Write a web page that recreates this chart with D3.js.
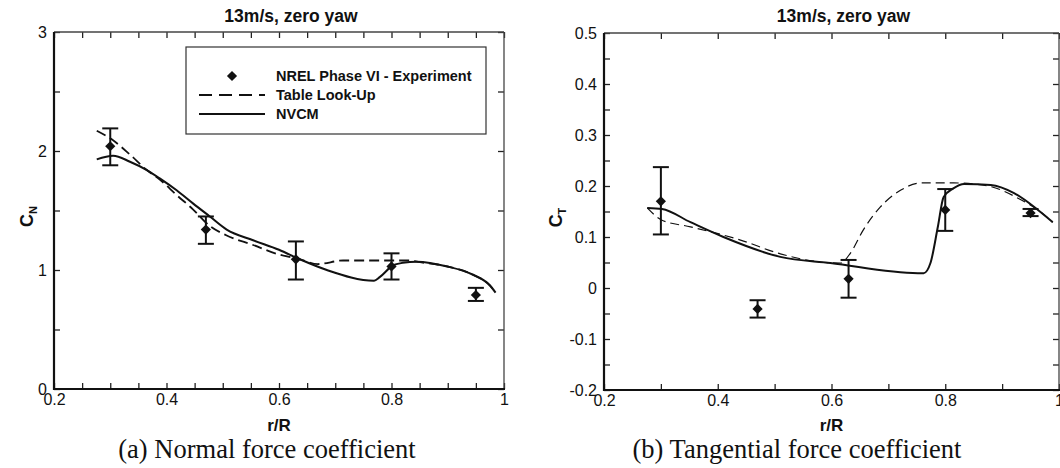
<!DOCTYPE html>
<html>
<head>
<meta charset="utf-8">
<script src="https://cdn.jsdelivr.net/npm/d3@7"></script>
<style>
  body { margin: 0; background: #fff; }
  svg { display: block; }
  text { font-family: Arial, "Liberation Sans", sans-serif; fill: #111; }
</style>
</head>
<body>
<svg id="chart" width="1060" height="468"></svg>
<script>
// experiment stations (r/R)
const expR = [0.30, 0.47, 0.63, 0.80, 0.95];

// normal force coefficient
const cnExp = [2.04, 1.34, 1.09, 1.03, 0.79];
const cnErrLo = [1.88, 1.22, 0.92, 0.92, 0.74];
const cnErrHi = [2.19, 1.45, 1.24, 1.14, 0.85];
const cnTableR = [0.276, 0.305, 0.335, 0.365, 0.388, 0.418, 0.447, 0.477, 0.507, 0.554, 0.60, 0.637, 0.669, 0.714, 0.744, 0.80, 0.833, 0.845, 0.899, 0.945, 0.975, 0.985];
const cnTable = [2.17, 2.09, 1.97, 1.84, 1.76, 1.63, 1.51, 1.37, 1.29, 1.21, 1.13, 1.09, 1.05, 1.08, 1.08, 1.08, 1.08, 1.07, 1.03, 0.96, 0.87, 0.81];
const cnNvcmR = [0.276, 0.305, 0.335, 0.365, 0.388, 0.418, 0.447, 0.477, 0.507, 0.554, 0.60, 0.637, 0.685, 0.769, 0.779, 0.803, 0.82, 0.845, 0.899, 0.945, 0.975, 0.985];
const cnNvcm = [1.93, 1.96, 1.91, 1.84, 1.77, 1.67, 1.56, 1.45, 1.34, 1.25, 1.17, 1.09, 1.00, 0.91, 0.94, 1.04, 1.06, 1.07, 1.03, 0.96, 0.87, 0.81];

// tangential force coefficient
const ctExp = [0.170, -0.041, 0.018, 0.153, 0.147];
const ctErrLo = [0.105, -0.058, -0.019, 0.112, 0.141];
const ctErrHi = [0.237, -0.024, 0.055, 0.194, 0.155];
const ctTableR = [0.276, 0.302, 0.352, 0.44, 0.51, 0.581, 0.616, 0.633, 0.656, 0.686, 0.722, 0.757, 0.815, 0.875, 0.933, 0.963, 0.989];
const ctTable = [0.157, 0.133, 0.120, 0.094, 0.067, 0.051, 0.049, 0.068, 0.114, 0.159, 0.192, 0.206, 0.206, 0.200, 0.173, 0.153, 0.129];
const ctNvcmR = [0.276, 0.302, 0.352, 0.41, 0.51, 0.598, 0.752, 0.762, 0.774, 0.787, 0.797, 0.815, 0.833, 0.88, 0.921, 0.963, 0.989];
const ctNvcm = [0.157, 0.155, 0.129, 0.100, 0.061, 0.049, 0.029, 0.029, 0.049, 0.120, 0.178, 0.196, 0.204, 0.202, 0.186, 0.153, 0.129];

const legendLabels = ['NREL Phase VI - Experiment', 'Table Look-Up', 'NVCM'];

const svg = d3.select('#chart');

const fmt = (d) => {
  const v = +d.toFixed(2);
  return (v < 0 ? '-' : '') + d3.format('~g')(Math.abs(v));
};
const isMult = (d, step) => Math.abs(d / step - Math.round(d / step)) < 1e-6;

function drawPanel(p) {
  const x = d3.scaleLinear().domain([0.2, 1]).range(p.xRange);
  const y = d3.scaleLinear().domain(p.yDomain).range(p.yRange);
  const [x0, x1] = p.xRange;
  const [yb, yt] = p.yRange;
  const g = svg.append('g');

  const xt = d3.range(0.2, 1.0001, p.xStep).map((d) => +d.toFixed(2));
  const yt_ = d3.range(p.yDomain[0], p.yDomain[1] + 1e-6, p.yStep).map((d) => +d.toFixed(2));

  const styleAxis = (sel) => {
    sel.select('.domain').remove();
    sel.selectAll('.tick line').attr('stroke', '#222').attr('stroke-width', 1.3);
    sel.selectAll('.tick text').attr('font-size', 16).attr('fill', '#222');
  };

  g.append('g')
    .attr('transform', `translate(0,${yb})`)
    .call(d3.axisBottom(x).tickValues(xt).tickSize(-6).tickPadding(5)
      .tickFormat((d) => (isMult(d, 0.2) ? fmt(d) : '')))
    .call(styleAxis);
  g.append('g')
    .attr('transform', `translate(0,${yt})`)
    .call(d3.axisTop(x).tickValues(xt).tickSize(-6).tickFormat(''))
    .call(styleAxis);
  g.append('g')
    .attr('transform', `translate(${x0},0)`)
    .call(d3.axisLeft(y).tickValues(yt_).tickSize(-6).tickPadding(7)
      .tickFormat((d) => (isMult(d, p.yLabelStep) ? fmt(d) : '')))
    .call(styleAxis);
  g.append('g')
    .attr('transform', `translate(${x1},0)`)
    .call(d3.axisRight(y).tickValues(yt_).tickSize(-6).tickFormat(''))
    .call(styleAxis);

  // frame
  g.append('line').attr('x1', x0).attr('x2', x1).attr('y1', yt).attr('y2', yt)
    .attr('stroke', '#444').attr('stroke-width', 1.3);
  g.append('line').attr('x1', x1).attr('x2', x1).attr('y1', yt).attr('y2', yb)
    .attr('stroke', '#444').attr('stroke-width', 1.3);
  g.append('line').attr('x1', x0).attr('x2', x1 + 1).attr('y1', yb).attr('y2', yb)
    .attr('stroke', '#111').attr('stroke-width', 2.2);
  g.append('line').attr('x1', x0).attr('x2', x0).attr('y1', yt).attr('y2', yb + 1)
    .attr('stroke', '#111').attr('stroke-width', 2.2);

  const line = d3.line().x((d) => x(d[0])).y((d) => y(d[1])).curve(d3.curveMonotoneX);

  g.append('path')
    .datum(d3.zip(p.tableR, p.table))
    .attr('d', line)
    .attr('fill', 'none')
    .attr('stroke', '#111')
    .attr('stroke-width', p.dashWidth)
    .attr('stroke-dasharray', p.dash);

  g.append('path')
    .datum(d3.zip(p.nvcmR, p.nvcm))
    .attr('d', line)
    .attr('fill', 'none')
    .attr('stroke', '#111')
    .attr('stroke-width', 2);

  const pts = expR.map((r, i) => ({ r, v: p.exp[i], lo: p.lo[i], hi: p.hi[i] }));
  const eb = g.append('g').attr('stroke', '#111').attr('stroke-width', 2);
  eb.selectAll('.bar').data(pts).join('line')
    .attr('x1', (d) => x(d.r)).attr('x2', (d) => x(d.r))
    .attr('y1', (d) => y(d.lo)).attr('y2', (d) => y(d.hi));
  eb.selectAll('.capHi').data(pts).join('line')
    .attr('x1', (d) => x(d.r) - 8).attr('x2', (d) => x(d.r) + 8)
    .attr('y1', (d) => y(d.hi)).attr('y2', (d) => y(d.hi));
  eb.selectAll('.capLo').data(pts).join('line')
    .attr('x1', (d) => x(d.r) - 8).attr('x2', (d) => x(d.r) + 8)
    .attr('y1', (d) => y(d.lo)).attr('y2', (d) => y(d.lo));

  g.selectAll('.mk').data(pts).join('path')
    .attr('d', d3.symbol(d3.symbolSquare, 52))
    .attr('transform', (d) => `translate(${x(d.r)},${y(d.v)}) rotate(45)`)
    .attr('fill', '#111');

  // texts
  g.append('text')
    .attr('x', (x0 + x1) / 2 + 12).attr('y', 22)
    .attr('text-anchor', 'middle').attr('font-size', 17.5).attr('font-weight', 'bold')
    .text(p.title);
  g.append('text')
    .attr('x', (x0 + x1) / 2).attr('y', 431)
    .attr('text-anchor', 'middle').attr('font-size', 17).attr('font-weight', 'bold')
    .text('r/R');
  const yl = g.append('text')
    .attr('transform', `translate(${p.yLabelX},${(yb + yt) / 2 + 6}) rotate(-90)`)
    .attr('text-anchor', 'middle').attr('font-weight', 'bold');
  yl.append('tspan').attr('font-size', 18).text('C');
  yl.append('tspan').attr('font-size', 11).attr('dy', 4).text(p.sub);
  g.append('text')
    .attr('x', p.capX).attr('y', 458)
    .attr('text-anchor', 'middle').attr('font-size', 26.5)
    .style('font-family', '"Liberation Serif", "Times New Roman", serif')
    .text(p.caption);

  return { x, y, g };
}

drawPanel({
  xRange: [54, 504], yDomain: [0, 3], yRange: [389, 32],
  xStep: 0.05, yStep: 0.5, yLabelStep: 1,
  exp: cnExp, lo: cnErrLo, hi: cnErrHi,
  tableR: cnTableR, table: cnTable, nvcmR: cnNvcmR, nvcm: cnNvcm,
  dash: '10,5', dashWidth: 1.8,
  title: '13m/s, zero yaw', sub: 'N', yLabelX: 33,
  caption: '(a) Normal force coefficient', capX: 267,
});

drawPanel({
  xRange: [604, 1059], yDomain: [-0.2, 0.5], yRange: [390, 33],
  xStep: 0.1, yStep: 0.05, yLabelStep: 0.1,
  exp: ctExp, lo: ctErrLo, hi: ctErrHi,
  tableR: ctTableR, table: ctTable, nvcmR: ctNvcmR, nvcm: ctNvcm,
  dash: '9,5', dashWidth: 1.2,
  title: '13m/s, zero yaw', sub: 'T', yLabelX: 562,
  caption: '(b) Tangential force coefficient', capX: 797,
});

// legend (left panel)
const lg = svg.append('g');
lg.append('rect')
  .attr('x', 186).attr('y', 47).attr('width', 300).attr('height', 87)
  .attr('fill', '#fff').attr('stroke', '#333').attr('stroke-width', 1.2);
const rows = [76, 95, 114];
lg.append('path')
  .attr('d', d3.symbol(d3.symbolSquare, 52))
  .attr('transform', `translate(232,${rows[0]}) rotate(45)`)
  .attr('fill', '#111');
lg.append('line').attr('x1', 199).attr('x2', 265).attr('y1', rows[1]).attr('y2', rows[1])
  .attr('stroke', '#111').attr('stroke-width', 1.8).attr('stroke-dasharray', '13,7');
lg.append('line').attr('x1', 199).attr('x2', 265).attr('y1', rows[2]).attr('y2', rows[2])
  .attr('stroke', '#111').attr('stroke-width', 2);
lg.selectAll('.lt').data(legendLabels).join('text')
  .attr('x', 276).attr('y', (d, i) => rows[i] + 5)
  .attr('font-size', 14.5).attr('font-weight', 'bold')
  .text((d) => d);
</script>
</body>
</html>
